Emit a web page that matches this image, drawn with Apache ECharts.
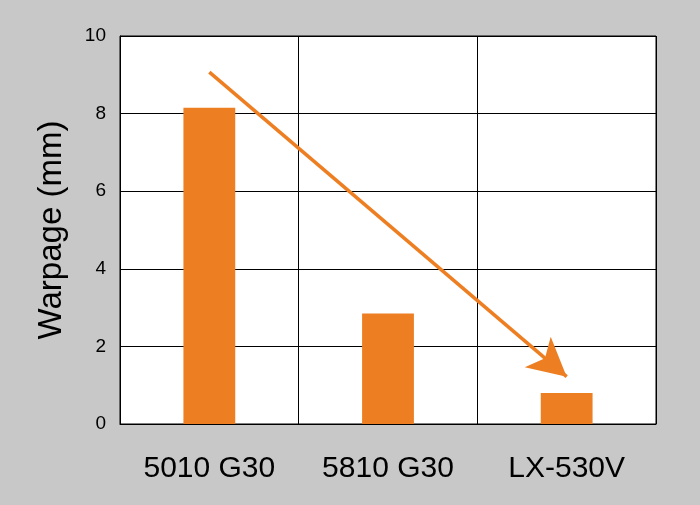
<!DOCTYPE html>
<html>
<head>
<meta charset="utf-8">
<script src="https://cdn.jsdelivr.net/npm/echarts@6/dist/echarts.min.js"></script>
<style>html,body{margin:0;padding:0;background:#c8c8c8;}#c{width:700px;height:505px;}</style>
</head>
<body>
<div id="c"></div>
<script>
const categories = ['5010 G30', '5810 G30', 'LX-530V'];
const warpage = [8.15, 2.85, 0.8];
const yTicks = [0, 2, 4, 6, 8, 10];
const arrowStart = ['5010 G30', 9.07];
const arrowEnd = ['LX-530V', 1.22];
const orange = '#ED7F22';

const chart = echarts.init(document.getElementById('c'));
chart.setOption({
  backgroundColor: '#c8c8c8',
  animation: false,
  grid: {left: 120, right: 44, top: 36, bottom: 81, show: true, backgroundColor: '#ffffff', borderColor: '#000', borderWidth: 1},
  xAxis: {
    type: 'category', data: categories,
    axisLine: {show: true, lineStyle: {color: '#000', width: 1}},
    axisTick: {show: false},
    splitLine: {show: true, lineStyle: {color: '#000', width: 1}},
    axisLabel: {color: '#000', fontSize: 30, fontFamily: 'Liberation Sans, Arial', margin: 30}
  },
  yAxis: {
    type: 'value', min: yTicks[0], max: yTicks[yTicks.length - 1], interval: 2,
    name: 'Warpage (mm)', nameLocation: 'middle', nameGap: 52,
    nameTextStyle: {color: '#000', fontSize: 33, fontFamily: 'Liberation Sans, Arial'},
    axisLine: {show: true, lineStyle: {color: '#000'}},
    axisTick: {show: false},
    splitLine: {show: true, lineStyle: {color: '#000', width: 1}},
    axisLabel: {color: '#000', fontSize: 19, fontFamily: 'Liberation Sans, Arial', margin: 14}
  },
  series: [{
    type: 'bar', data: warpage, barWidth: '29%',
    itemStyle: {color: orange},
    markLine: {
      silent: true,
      symbol: ['none', 'arrow'],
      symbolSize: [30, 38],
      label: {show: false},
      lineStyle: {color: orange, width: 3.5, type: 'solid'},
      data: [[{coord: arrowStart}, {coord: arrowEnd}]]
    }
  }]
});
</script>
</body>
</html>
